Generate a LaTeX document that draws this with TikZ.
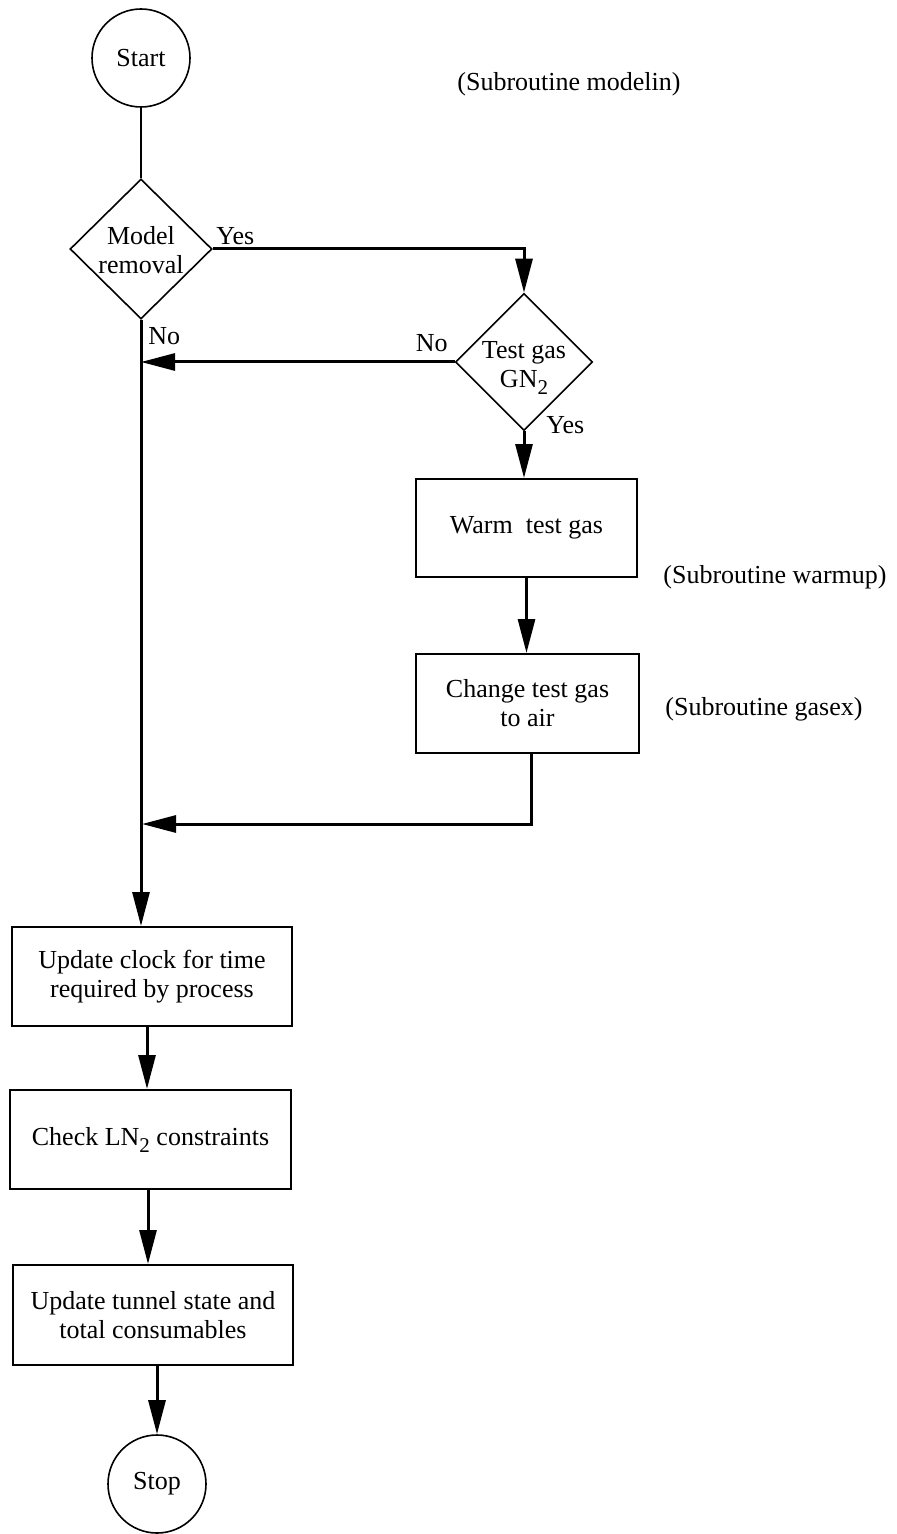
\documentclass[tikz,border=0pt]{standalone}
\usepackage{fontspec}
\setmainfont{Liberation Serif}
\usetikzlibrary{shapes.geometric,arrows.meta,calc}
\newcommand{\mysub}[1]{\raisebox{-3.5pt}{\fontsize{10.5}{10.5}\selectfont #1}}
\begin{document}
\begin{tikzpicture}[x=0.5pt,y=-0.5pt,
  every node/.style={font=\fontsize{13}{14.5}\selectfont},
  term/.style={circle,draw,line width=0.8pt,minimum size=49pt,inner sep=0pt},
  dia/.style={diamond,draw,line width=0.8pt,inner sep=0pt},
  proc/.style={rectangle,draw,line width=1pt,align=center,inner sep=0pt},
  conn/.style={line width=1.5pt},
  arr/.style={conn,-{Triangle[length=17pt,width=8.5pt]}},
  lbl/.style={inner sep=0pt}]
\useasboundingbox (0,0) rectangle (896,1534);

% shapes
\node[term] (start) at (141,58) {Start};
\node[dia,minimum width=71pt,minimum height=70pt] (md) at (141,249) {};
\node[align=center,inner sep=0pt] (mdt) at (141,250) {Model\\removal};
\node[dia,minimum width=68.5pt,minimum height=68.5pt] (tg) at (524,362) {};
\node[align=center,inner sep=0pt] (tgt) at (524,368) {Test gas\\GN\mysub{2}};
\node[proc,minimum width=110.5pt,minimum height=49pt] (warm) at (526.5,528) {Warm\ \ test gas};
\node[proc,minimum width=111.5pt,minimum height=49.5pt] (chg) at (527.5,703.5) {Change test gas\\to air};
\node[proc,minimum width=140pt,minimum height=49.5pt] (clock) at (152,976.5) {Update clock for time\\required by process};
\node[proc,minimum width=140.5pt,minimum height=49.5pt] (check) at (150.5,1139.5) {Check LN\mysub{2} constraints};
\node[proc,minimum width=140pt,minimum height=50pt] (tunnel) at (153,1315) {Update tunnel state and\\total consumables};
\node[term] (stop) at (157,1484) {Stop};

% labels
\node[lbl,anchor=base west] (yes1) at (216,245) {Yes};
\node[lbl,anchor=base west] (no1) at (148,345) {No};
\node[lbl,anchor=base east] (no2) at (448,352) {No};
\node[lbl,anchor=base west] (yes2) at (546,434) {Yes};
\node[lbl] (sub1) at (569,84) {(Subroutine modelin)};
\node[lbl,anchor=west] (sub2) at (663,577) {(Subroutine warmup)};
\node[lbl,anchor=west] (sub3) at (665,709) {(Subroutine gasex)};

% connectors
\draw[line width=1.1pt] (start.south) -- (md.north);
\draw[arr] (md.east) -| (tg.north);
\draw[arr] (tg.west) -- (tg.west -| md.south);
\draw[arr] (tg.south) -- (tg.south |- warm.north);
\draw[arr] (warm.south) -- (warm.south |- chg.north);
\coordinate (merge) at (142,824);
\draw[arr] ([xshift=1.75pt]chg.south) |- (merge);
\draw[arr] (md.south) -- (md.south |- clock.north);
\draw[arr] ([xshift=-2.5pt]clock.south) -- ([xshift=-2.5pt]clock.south |- check.north);
\draw[arr] ([xshift=-1.25pt]check.south) -- ([xshift=-1.25pt]check.south |- tunnel.north);
\draw[arr] (stop.north |- tunnel.south) -- (stop.north);
\end{tikzpicture}
\end{document}
